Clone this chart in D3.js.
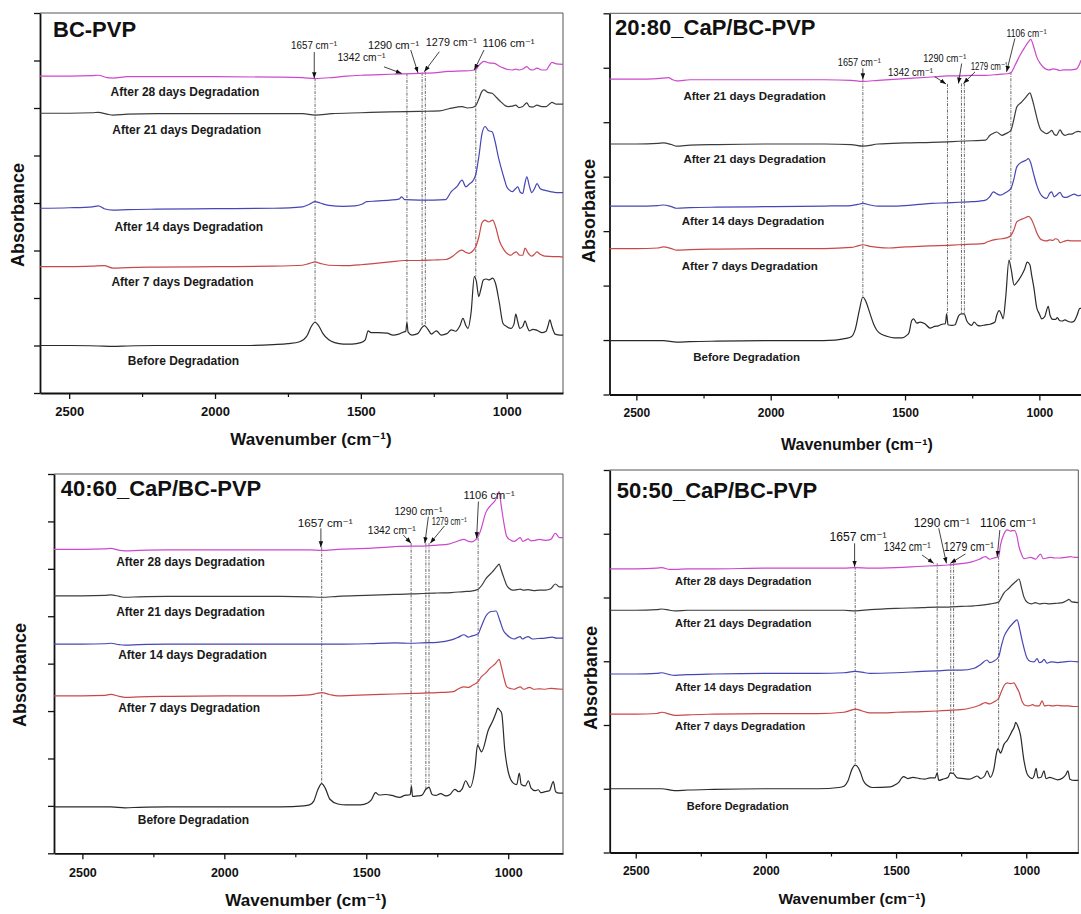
<!DOCTYPE html>
<html>
<head>
<meta charset="utf-8">
<script src="https://cdn.jsdelivr.net/npm/d3@7"></script>
<style>
body{margin:0;background:#fff;}
svg text{font-family:"Liberation Sans",Arial,Helvetica,"DejaVu Sans",sans-serif;}
</style>
</head>
<body>
<div id="chart"></div>
<script>

// axis tick labels (cm-1)
const wnMajor = [2500, 2000, 1500, 1000];
const wnMinor = [2250, 1750, 1250];

const panelTitles = ["BC-PVP", "20:80_CaP/BC-PVP", "40:60_CaP/BC-PVP", "50:50_CaP/BC-PVP"];
const peakMarks = [1657, 1342, 1290, 1279, 1106];

const p1Names = ["After 28 days Degradation","After 21 days Degradation","After 14 days Degradation","After 7 days Degradation","Before Degradation"];
const p2Names = ["After 21 days Degradation","After 21 days Degradation","After 14 days Degradation","After 7 days Degradation","Before Degradation"];
const p3Names = p1Names;
const p4Names = p1Names;

const seriesColors = ["#cc48cc","#3c3c3c","#4646b4","#c84848","#2a2a2a"];

// ---------- BC-PVP (offset absorbance, a.u.) ----------
const p1_d28 = [[2600,6.67],[2500,6.67],[2420,6.68],[2400,6.69],[2370,6.64],[2350,6.63],[2300,6.66],[2200,6.66],[2000,6.66],[1800,6.65],[1700,6.64],[1657,6.62],[1600,6.64],[1550,6.67],[1500,6.69],[1400,6.71],[1300,6.73],[1250,6.74],[1200,6.77],[1150,6.78],[1120,6.79],[1106,6.81],[1095,6.9],[1085,6.96],[1078,6.98],[1060,6.95],[1042,6.94],[1025,6.88],[1010,6.84],[995,6.81],[980,6.8],[969,6.82],[958,6.8],[945,6.82],[931,6.87],[920,6.81],[910,6.8],[896,6.84],[880,6.8],[865,6.8],[855,6.88],[845,6.96],[830,6.93],[807,6.92]];
const p1_d21 = [[2600,5.89],[2500,5.89],[2420,5.9],[2400,5.91],[2370,5.87],[2350,5.85],[2300,5.87],[2200,5.88],[2000,5.88],[1800,5.88],[1700,5.88],[1657,5.85],[1600,5.88],[1500,5.9],[1400,5.92],[1300,5.93],[1230,5.94],[1196,5.99],[1170,6.02],[1153,6.03],[1135,6.0],[1118,6.01],[1106,6.05],[1095,6.2],[1085,6.35],[1078,6.38],[1065,6.33],[1050,6.31],[1035,6.22],[1020,6.13],[1005,6.05],[995,6.03],[980,6.04],[969,6.06],[958,6.01],[945,6.03],[931,6.11],[922,6.03],[910,6.02],[896,6.06],[880,6.03],[865,6.03],[850,6.1],[845,6.12],[830,6.08],[807,6.08]];
const p1_d14 = [[2600,3.89],[2500,3.9],[2420,3.92],[2400,3.94],[2380,3.88],[2350,3.85],[2300,3.86],[2200,3.87],[2000,3.88],[1800,3.89],[1700,3.92],[1675,3.98],[1657,4.03],[1640,4.0],[1610,3.95],[1560,3.93],[1520,3.94],[1495,3.98],[1480,4.03],[1450,4.04],[1400,4.06],[1370,4.08],[1360,4.13],[1350,4.07],[1300,4.06],[1250,4.06],[1210,4.07],[1190,4.24],[1170,4.35],[1153,4.48],[1140,4.34],[1128,4.4],[1118,4.45],[1106,4.6],[1095,5.0],[1085,5.45],[1074,5.61],[1062,5.52],[1050,5.5],[1040,5.3],[1028,4.95],[1020,4.76],[1008,4.5],[1000,4.34],[988,4.26],[980,4.24],[970,4.3],[962,4.34],[953,4.22],[945,4.2],[938,4.4],[931,4.55],[922,4.35],[914,4.22],[905,4.3],[896,4.41],[885,4.3],[872,4.27],[850,4.24],[830,4.22],[807,4.22]];
const p1_d7 = [[2600,2.66],[2500,2.66],[2420,2.67],[2380,2.68],[2350,2.63],[2300,2.64],[2200,2.65],[2000,2.66],[1800,2.67],[1700,2.69],[1675,2.73],[1657,2.76],[1640,2.73],[1610,2.69],[1560,2.68],[1500,2.7],[1450,2.73],[1400,2.76],[1350,2.79],[1300,2.79],[1250,2.8],[1210,2.81],[1185,2.88],[1165,2.98],[1155,3.01],[1140,2.96],[1128,2.94],[1115,3.0],[1106,3.08],[1095,3.3],[1085,3.58],[1075,3.64],[1062,3.6],[1048,3.64],[1038,3.5],[1025,3.2],[1010,3.02],[995,2.92],[985,2.9],[975,2.95],[968,2.97],[955,2.9],[945,2.9],[937,3.05],[928,2.96],[915,2.88],[905,2.92],[897,2.97],[885,2.92],[870,2.88],[840,2.87],[820,2.87],[807,2.86]];
const p1_d0 = [[2600,1.0],[2500,1.0],[2400,0.99],[2350,0.98],[2300,0.99],[2200,1.0],[2000,1.0],[1900,1.0],[1800,1.02],[1750,1.04],[1710,1.08],[1685,1.2],[1670,1.4],[1657,1.49],[1645,1.42],[1630,1.25],[1610,1.12],[1590,1.06],[1560,1.03],[1530,1.03],[1500,1.06],[1485,1.12],[1475,1.31],[1465,1.27],[1440,1.27],[1410,1.26],[1390,1.22],[1370,1.24],[1355,1.28],[1346,1.3],[1342,1.49],[1338,1.28],[1325,1.22],[1305,1.25],[1290,1.38],[1282,1.42],[1270,1.34],[1258,1.24],[1241,1.31],[1225,1.22],[1205,1.25],[1190,1.33],[1175,1.3],[1160,1.42],[1150,1.57],[1140,1.42],[1133,1.36],[1122,1.7],[1111,2.45],[1104,2.35],[1096,2.03],[1088,2.2],[1080,2.38],[1070,2.4],[1060,2.38],[1048,2.42],[1038,2.3],[1025,1.89],[1013,1.47],[1000,1.4],[986,1.36],[975,1.45],[969,1.66],[962,1.5],[955,1.36],[945,1.4],[937,1.52],[930,1.4],[922,1.31],[910,1.34],[900,1.33],[890,1.3],[880,1.27],[865,1.3],[858,1.42],[852,1.54],[845,1.4],[834,1.24],[816,1.22],[807,1.22]];

// ---------- 20:80_CaP/BC-PVP ----------
const p2_d28 = [[2600,5.79],[2500,5.79],[2420,5.8],[2380,5.82],[2365,5.78],[2350,5.76],[2300,5.78],[2200,5.78],[2000,5.78],[1800,5.78],[1700,5.77],[1657,5.75],[1600,5.77],[1500,5.8],[1400,5.83],[1342,5.85],[1300,5.85],[1250,5.86],[1200,5.86],[1150,5.88],[1120,5.89],[1106,5.91],[1090,6.05],[1072,6.23],[1055,6.37],[1040,6.48],[1032,6.52],[1022,6.4],[1010,6.2],[997,6.08],[985,6.01],[973,5.97],[961,5.96],[950,5.98],[936,5.97],[924,5.95],[912,5.96],[900,5.96],[887,5.96],[870,5.97],[861,5.98],[852,6.05],[845,6.14]];
const p2_d21 = [[2600,4.6],[2500,4.6],[2420,4.61],[2400,4.62],[2370,4.59],[2350,4.56],[2300,4.58],[2200,4.59],[2000,4.6],[1800,4.6],[1700,4.59],[1657,4.56],[1600,4.6],[1500,4.62],[1400,4.63],[1342,4.64],[1300,4.65],[1250,4.66],[1200,4.67],[1184,4.76],[1170,4.8],[1159,4.82],[1140,4.76],[1125,4.79],[1106,4.85],[1095,5.05],[1084,5.28],[1066,5.37],[1050,5.46],[1035,5.54],[1028,5.45],[1016,5.22],[1005,5.0],[997,4.88],[985,4.82],[973,4.79],[962,4.82],[954,4.85],[945,4.78],[936,4.76],[923,4.86],[914,4.79],[905,4.76],[890,4.78],[880,4.78],[865,4.82],[855,4.83],[845,4.82]];
const p2_d14 = [[2600,3.46],[2500,3.46],[2420,3.47],[2400,3.48],[2370,3.45],[2350,3.42],[2300,3.43],[2200,3.44],[2000,3.45],[1800,3.46],[1700,3.47],[1675,3.49],[1657,3.51],[1630,3.48],[1600,3.46],[1550,3.46],[1500,3.47],[1450,3.49],[1400,3.51],[1342,3.52],[1300,3.53],[1250,3.54],[1200,3.57],[1185,3.63],[1171,3.72],[1160,3.69],[1146,3.66],[1125,3.71],[1106,3.78],[1095,3.95],[1084,4.18],[1065,4.27],[1050,4.3],[1041,4.33],[1032,4.25],[1022,4.06],[1010,3.85],[997,3.69],[985,3.62],[973,3.6],[961,3.7],[954,3.72],[945,3.63],[936,3.66],[923,3.71],[912,3.63],[900,3.62],[885,3.65],[870,3.68],[855,3.65],[845,3.66]];
const p2_d7 = [[2600,2.68],[2500,2.68],[2420,2.69],[2400,2.71],[2370,2.68],[2350,2.65],[2300,2.66],[2200,2.67],[2000,2.68],[1800,2.68],[1700,2.7],[1675,2.73],[1657,2.75],[1630,2.72],[1600,2.7],[1560,2.69],[1500,2.71],[1450,2.72],[1400,2.73],[1342,2.74],[1300,2.75],[1250,2.76],[1210,2.77],[1190,2.81],[1160,2.85],[1140,2.86],[1120,2.88],[1106,2.92],[1095,3.02],[1084,3.17],[1065,3.22],[1050,3.25],[1041,3.27],[1030,3.22],[1020,3.11],[1008,2.95],[997,2.86],[985,2.83],[973,2.82],[961,2.84],[950,2.83],[940,2.86],[930,2.84],[923,2.79],[910,2.81],[895,2.83],[880,2.82],[860,2.82],[845,2.82]];
const p2_d0 = [[2600,0.99],[2500,0.99],[2400,0.99],[2350,0.96],[2300,0.97],[2200,0.98],[2000,0.99],[1850,0.99],[1760,1.0],[1720,1.03],[1700,1.06],[1685,1.2],[1670,1.55],[1657,1.79],[1645,1.7],[1630,1.48],[1615,1.27],[1605,1.18],[1585,1.1],[1568,1.07],[1540,1.04],[1510,1.04],[1495,1.08],[1485,1.14],[1475,1.36],[1468,1.39],[1456,1.31],[1444,1.33],[1426,1.3],[1407,1.22],[1390,1.25],[1376,1.26],[1362,1.29],[1350,1.3],[1345,1.48],[1340,1.28],[1325,1.27],[1314,1.28],[1300,1.45],[1290,1.48],[1280,1.48],[1270,1.35],[1260,1.29],[1252,1.27],[1243,1.33],[1230,1.27],[1221,1.26],[1200,1.28],[1184,1.29],[1165,1.33],[1159,1.45],[1149,1.54],[1140,1.45],[1135,1.39],[1125,1.8],[1113,2.47],[1105,2.3],[1094,2.01],[1085,2.05],[1066,2.19],[1055,2.3],[1045,2.43],[1035,2.38],[1029,2.2],[1020,1.95],[1010,1.6],[1000,1.48],[991,1.39],[980,1.43],[967,1.62],[960,1.45],[950,1.38],[940,1.38],[933,1.41],[925,1.36],[915,1.35],[905,1.37],[892,1.34],[880,1.33],[870,1.35],[860,1.45],[849,1.58],[845,1.58]];

// ---------- 40:60_CaP/BC-PVP ----------
const p3_d28 = [[2600,6.41],[2500,6.41],[2420,6.42],[2400,6.43],[2370,6.39],[2350,6.38],[2300,6.39],[2200,6.4],[2000,6.4],[1800,6.4],[1700,6.4],[1657,6.39],[1600,6.41],[1500,6.43],[1400,6.47],[1342,6.48],[1300,6.48],[1250,6.5],[1210,6.52],[1190,6.56],[1156,6.62],[1140,6.58],[1130,6.57],[1106,6.68],[1095,6.85],[1080,7.17],[1060,7.35],[1045,7.45],[1035,7.6],[1032,7.63],[1025,7.35],[1017,7.03],[1005,6.68],[990,6.6],[979,6.58],[968,6.62],[958,6.66],[948,6.58],[940,6.6],[930,6.63],[920,6.59],[905,6.6],[890,6.62],[870,6.6],[850,6.62],[834,6.75],[820,6.66],[807,6.66]];
const p3_d21 = [[2600,5.43],[2500,5.43],[2420,5.44],[2400,5.45],[2370,5.42],[2350,5.4],[2300,5.41],[2200,5.42],[2000,5.42],[1800,5.42],[1700,5.41],[1657,5.4],[1600,5.42],[1500,5.44],[1400,5.46],[1342,5.47],[1300,5.48],[1250,5.49],[1200,5.5],[1156,5.52],[1130,5.53],[1106,5.57],[1090,5.68],[1080,5.78],[1055,5.94],[1040,6.05],[1032,6.1],[1025,5.98],[1017,5.84],[1005,5.65],[997,5.59],[985,5.55],[969,5.56],[958,5.57],[945,5.55],[930,5.56],[910,5.54],[890,5.55],[870,5.55],[850,5.58],[834,5.68],[820,5.62],[807,5.62]];
const p3_d14 = [[2600,4.41],[2500,4.41],[2420,4.42],[2400,4.43],[2370,4.4],[2350,4.39],[2300,4.4],[2200,4.41],[2000,4.41],[1800,4.41],[1657,4.41],[1600,4.41],[1500,4.42],[1400,4.44],[1342,4.43],[1300,4.44],[1250,4.45],[1200,4.5],[1175,4.56],[1156,4.61],[1140,4.56],[1130,4.58],[1106,4.63],[1095,4.78],[1080,4.99],[1060,5.1],[1043,5.11],[1030,4.92],[1017,4.7],[1005,4.61],[990,4.54],[979,4.52],[968,4.55],[958,4.57],[950,4.52],[940,4.55],[930,4.57],[915,4.52],[895,4.53],[870,4.54],[845,4.56],[830,4.54],[807,4.54]];
const p3_d7 = [[2600,3.32],[2500,3.32],[2420,3.33],[2400,3.35],[2370,3.31],[2350,3.29],[2300,3.3],[2200,3.31],[2000,3.32],[1800,3.32],[1700,3.34],[1675,3.37],[1657,3.39],[1630,3.35],[1600,3.32],[1550,3.33],[1500,3.34],[1400,3.36],[1300,3.38],[1250,3.39],[1193,3.41],[1175,3.47],[1156,3.51],[1140,3.5],[1125,3.55],[1106,3.62],[1095,3.72],[1080,3.8],[1065,3.9],[1045,4.0],[1032,4.09],[1025,3.95],[1015,3.7],[1005,3.51],[990,3.47],[979,3.46],[968,3.49],[958,3.51],[945,3.46],[935,3.48],[925,3.5],[910,3.46],[890,3.47],[870,3.46],[850,3.48],[830,3.47],[807,3.46]];
const p3_d0 = [[2600,0.98],[2500,0.98],[2400,0.98],[2350,0.96],[2300,0.97],[2200,0.98],[2000,0.98],[1800,0.98],[1720,1.0],[1700,1.02],[1685,1.1],[1670,1.35],[1657,1.47],[1645,1.38],[1628,1.14],[1600,1.04],[1570,1.02],[1521,1.02],[1495,1.06],[1483,1.12],[1467,1.28],[1455,1.23],[1430,1.24],[1410,1.22],[1382,1.18],[1365,1.22],[1350,1.23],[1345,1.24],[1341,1.42],[1337,1.2],[1320,1.21],[1305,1.22],[1290,1.35],[1279,1.39],[1268,1.24],[1255,1.22],[1238,1.26],[1220,1.21],[1205,1.24],[1188,1.35],[1175,1.3],[1162,1.36],[1150,1.53],[1135,1.39],[1117,1.8],[1108,2.28],[1094,2.14],[1070,2.6],[1053,2.81],[1042,2.98],[1037,3.06],[1030,3.02],[1023,2.95],[1012,2.18],[1000,1.72],[982,1.48],[970,1.45],[961,1.69],[954,1.45],[940,1.42],[929,1.53],[920,1.38],[905,1.32],[894,1.34],[885,1.28],[870,1.3],[855,1.32],[841,1.51],[833,1.3],[820,1.27],[807,1.27]];

// ---------- 50:50_CaP/BC-PVP ----------
const p4_d28 = [[2600,4.45],[2500,4.45],[2420,4.46],[2400,4.47],[2370,4.44],[2350,4.44],[2300,4.45],[2200,4.45],[2000,4.46],[1800,4.46],[1700,4.46],[1657,4.47],[1600,4.46],[1500,4.47],[1400,4.49],[1342,4.5],[1300,4.51],[1250,4.53],[1210,4.56],[1180,4.6],[1157,4.64],[1140,4.6],[1125,4.62],[1106,4.64],[1099,4.82],[1085,5.0],[1073,5.06],[1060,5.04],[1054,5.05],[1044,5.05],[1035,4.95],[1028,4.8],[1018,4.68],[1009,4.61],[995,4.62],[983,4.63],[970,4.61],[964,4.6],[955,4.64],[945,4.68],[935,4.61],[920,4.62],[907,4.63],[890,4.62],[870,4.62],[850,4.63],[830,4.64],[815,4.63],[800,4.63]];
const p4_d21 = [[2600,3.8],[2500,3.8],[2420,3.81],[2400,3.82],[2370,3.8],[2350,3.79],[2300,3.8],[2200,3.8],[2000,3.8],[1800,3.8],[1700,3.8],[1657,3.79],[1600,3.81],[1500,3.83],[1400,3.84],[1342,3.85],[1300,3.85],[1250,3.86],[1200,3.87],[1137,3.9],[1106,3.93],[1086,4.07],[1065,4.15],[1054,4.2],[1040,4.25],[1028,4.29],[1018,4.15],[1009,4.01],[995,3.92],[980,3.9],[965,3.92],[950,3.9],[930,3.91],[910,3.9],[881,3.91],[860,3.92],[845,3.95],[836,3.97],[825,3.93],[800,3.92]];
const p4_d14 = [[2600,2.8],[2500,2.8],[2420,2.81],[2400,2.82],[2370,2.79],[2350,2.78],[2300,2.79],[2200,2.8],[2000,2.81],[1800,2.81],[1700,2.82],[1657,2.84],[1620,2.82],[1600,2.81],[1500,2.82],[1400,2.84],[1342,2.85],[1300,2.86],[1250,2.86],[1200,2.89],[1175,2.95],[1151,3.02],[1140,2.98],[1125,3.0],[1106,3.07],[1095,3.25],[1085,3.39],[1070,3.5],[1050,3.6],[1035,3.65],[1025,3.5],[1016,3.33],[1005,3.15],[997,3.05],[985,3.0],[970,2.99],[958,3.04],[950,2.98],[940,2.99],[932,3.03],[920,2.97],[905,2.99],[880,2.98],[855,2.99],[830,3.0],[800,2.99]];
const p4_d7 = [[2600,2.17],[2500,2.17],[2420,2.18],[2400,2.2],[2370,2.17],[2350,2.15],[2300,2.16],[2200,2.17],[2000,2.18],[1800,2.18],[1700,2.2],[1675,2.23],[1657,2.25],[1630,2.22],[1600,2.19],[1550,2.19],[1500,2.2],[1400,2.21],[1342,2.22],[1300,2.23],[1250,2.24],[1210,2.27],[1180,2.31],[1157,2.35],[1140,2.33],[1125,2.36],[1106,2.42],[1095,2.53],[1085,2.62],[1073,2.66],[1060,2.65],[1047,2.66],[1038,2.6],[1028,2.52],[1015,2.36],[1005,2.31],[990,2.3],[975,2.32],[965,2.3],[950,2.3],[939,2.38],[930,2.3],[915,2.31],[900,2.3],[880,2.31],[860,2.3],[840,2.3],[820,2.29],[800,2.29]];
const p4_d0 = [[2600,1.0],[2500,1.0],[2400,1.0],[2350,0.97],[2300,0.98],[2200,0.99],[2000,1.0],[1800,1.0],[1720,1.02],[1700,1.04],[1685,1.12],[1670,1.3],[1657,1.37],[1645,1.33],[1637,1.26],[1625,1.12],[1610,1.05],[1592,1.02],[1522,1.03],[1500,1.07],[1490,1.1],[1478,1.17],[1471,1.19],[1455,1.16],[1435,1.18],[1410,1.16],[1390,1.15],[1370,1.17],[1350,1.17],[1342,1.25],[1336,1.13],[1320,1.15],[1300,1.18],[1292,1.25],[1280,1.24],[1265,1.17],[1240,1.16],[1220,1.15],[1200,1.18],[1189,1.2],[1175,1.16],[1160,1.2],[1150,1.28],[1138,1.18],[1125,1.3],[1112,1.6],[1108,1.63],[1099,1.56],[1085,1.7],[1073,1.76],[1055,1.9],[1045,1.98],[1041,2.04],[1032,1.98],[1022,1.84],[1009,1.45],[995,1.22],[977,1.16],[970,1.2],[962,1.32],[955,1.17],[943,1.18],[932,1.28],[924,1.16],[910,1.18],[895,1.16],[880,1.14],[860,1.17],[848,1.22],[840,1.28],[832,1.15],[815,1.13],[800,1.13]];

const SUP = "\u207B\u00B9";   // superscript -1

function interp(series, w){
    //series is ordered by decreasing wavenumber
    for(let i=0; i<series.length-1; i++){
        let a = series[i], b = series[i+1];
        if(w <= a[0] && w >= b[0]){
            let t = (a[0]-w)/(a[0]-b[0]);
            return a[1] + t*(b[1]-a[1]);
        }
    }
    return series[series.length-1][1];
}

function peakNear(series, w, win){
    let best = interp(series, w);
    series.forEach(d => {
        if(Math.abs(d[0]-w) <= win && d[1] > best){ best = d[1]; }
    });
    return best;
}

function makePanel(svg, p){
    let g = svg.append("g");

    let x = d3.scaleLinear().domain([2600, p.xEnd]).range([p.left, p.right]);
    let y = d3.scaleLinear().domain([0, p.yMax]).range([p.bottom, p.top]);

    //frame (top and right)
    g.append("line").attr("x1",p.left).attr("x2",p.right).attr("y1",p.top).attr("y2",p.top)
        .attr("stroke","#555").attr("stroke-width",1);
    if(p.rightBorder){
        g.append("line").attr("x1",p.right).attr("x2",p.right).attr("y1",p.top).attr("y2",p.bottom)
            .attr("stroke","#555").attr("stroke-width",1);
    }

    //y axis, no labels
    let ya = g.append("g").attr("transform","translate(" + p.left + ",0)")
        .call(d3.axisLeft(y).tickValues(d3.range(0, p.yMax + 1)).tickSize(6).tickSizeOuter(0).tickFormat(""));
    ya.select(".domain").attr("stroke","#111").attr("stroke-width",1.8);
    ya.selectAll(".tick line").attr("stroke","#111").attr("stroke-width",1.3);

    //x axis
    let xa = g.append("g").attr("transform","translate(0," + p.bottom + ")")
        .call(d3.axisBottom(x).tickValues(wnMajor).tickSize(6).tickSizeOuter(0).tickPadding(p.tickPad).tickFormat(d3.format("d")));
    xa.select(".domain").attr("stroke","#111").attr("stroke-width",1.8);
    xa.selectAll(".tick line").attr("stroke","#111").attr("stroke-width",1.3);
    xa.attr("font-family",null).attr("font-size",p.tickFont).attr("font-weight","bold");
    xa.selectAll("text").attr("fill","#111");

    let xm = g.append("g").attr("transform","translate(0," + p.bottom + ")")
        .call(d3.axisBottom(x).tickValues(wnMinor).tickSize(4).tickFormat(""));
    xm.select(".domain").remove();
    xm.selectAll(".tick line").attr("stroke","#111").attr("stroke-width",1.2);

    //axis titles
    g.append("text")
        .attr("x",p.xTitle[0]).attr("y",p.xTitle[1])
        .attr("text-anchor","middle")
        .attr("font-size",p.xTitleFont).attr("font-weight","bold").attr("fill","#111")
        .text("Wavenumber (cm" + SUP + ")");

    g.append("text")
        .attr("transform","translate(" + p.yTitle[0] + "," + p.yTitle[1] + ")rotate(-90)")
        .attr("text-anchor","middle")
        .attr("dominant-baseline","central")
        .attr("font-size",18).attr("font-weight","bold").attr("fill","#111")
        .text("Absorbance");

    //panel title
    g.append("text")
        .attr("x",p.titlePos[0]).attr("y",p.titlePos[1])
        .attr("font-size",22).attr("font-weight","bold").attr("fill","#111")
        .text(p.title);

    //dotted peak lines, from top spectrum down to the original spectrum
    let top = p.series[0], base = p.series[p.series.length-1];
    p.annots.forEach((a) => {
        let ax = x(a.wn), ay = y(interp(top, a.wn));
        g.append("line")
            .attr("x1",ax).attr("x2",ax)
            .attr("y1",ay + a.tip[1]).attr("y2",y(peakNear(base, a.wn, 8)))
            .attr("stroke","#444").attr("stroke-width",0.8)
            .attr("stroke-dasharray","3,1.2,1,1.2");
    });

    //spectra
    let line = d3.line()
        .x(d => x(d[0]))
        .y(d => y(d[1]))
        .curve(d3.curveMonotoneX);

    g.selectAll("path.spec")
        .data(p.series)
        .join("path")
        .attr("class","spec")
        .attr("d",line)
        .attr("fill","none")
        .attr("stroke",(d,i) => seriesColors[i])
        .attr("stroke-width",1.2);

    //spectrum names
    g.selectAll("text.name")
        .data(p.names)
        .join("text")
        .attr("class","name")
        .attr("x",(d,i) => x(p.namePos[i][0]))
        .attr("y",(d,i) => y(p.namePos[i][1]))
        .attr("font-size",p.nameFont).attr("font-weight","bold").attr("fill","#1a1a1a")
        .text(d => d);

    //peak annotations with arrows
    p.annots.forEach((a) => {
        let ax = x(a.wn), ay = y(interp(top, a.wn));
        g.append("line")
            .attr("x1",ax + a.tail[0]).attr("y1",ay + a.tail[1])
            .attr("x2",ax + a.tip[0]).attr("y2",ay + a.tip[1])
            .attr("stroke","#111").attr("stroke-width",0.8)
            .attr("marker-end","url(#arrowhead)");
        g.append("text")
            .attr("x",ax + a.lab[0]).attr("y",ay + a.lab[1])
            .attr("font-size",p.annFont).attr("fill","#111")
            .attr("textLength",a.len).attr("lengthAdjust","spacingAndGlyphs")
            .text(a.wn + " cm" + SUP);
    });
}

let svg = d3.select("#chart").append("svg")
    .attr("width",1081).attr("height",914);

svg.append("defs").append("marker")
    .attr("id","arrowhead")
    .attr("viewBox","0 0 8 6")
    .attr("refX",8).attr("refY",3)
    .attr("markerWidth",6).attr("markerHeight",5)
    .attr("markerUnits","userSpaceOnUse")
    .attr("orient","auto")
    .append("path").attr("d","M0,0 L8,3 L0,6 Z").attr("fill","#111");

makePanel(svg, {
    title: panelTitles[0], titlePos:[53,37],
    left:40, right:563, top:13, bottom:393, xEnd:807, yMax:8, rightBorder:true,
    tickPad:8, tickFont:13, xTitle:[311,445], xTitleFont:17, yTitle:[18,215],
    series:[p1_d28, p1_d21, p1_d14, p1_d7, p1_d0], names:p1Names, nameFont:12,
    namePos:[[2358,6.26],[2352,5.45],[2345,3.42],[2355,2.26],[2299,0.6]],
    annFont:11.5,
    annots:[
        {wn:peakMarks[0], tip:[-0.8,-0.3], tail:[-0.8,-26.5], lab:[-24,-29.5], len:46},
        {wn:peakMarks[1], tip:[-5.2,-0.3], tail:[-23,-6.9], lab:[-69.5,-12.6], len:48},
        {wn:peakMarks[2], tip:[-4.2,-0.5], tail:[-11.4,-23.2], lab:[-54.1,-24.2], len:51},
        {wn:peakMarks[3], tip:[-1,-1.4], tail:[14,-21.4], lab:[0.5,-27], len:51},
        {wn:peakMarks[4], tip:[-1.5,0.5], tail:[8.2,-19.5], lab:[6.8,-22.5], len:52}
    ]
});

makePanel(svg, {
    title: panelTitles[1], titlePos:[615,35],
    left:609.5, right:1081, top:13.3, bottom:394.5, xEnd:845, yMax:7, rightBorder:false,
    tickPad:8, tickFont:12, xTitle:[857,450], xTitleFont:16, yTitle:[589,211],
    series:[p2_d28, p2_d21, p2_d14, p2_d7, p2_d0], names:p2Names, nameFont:11.5,
    namePos:[[2325,5.41],[2325,4.25],[2331,3.12],[2331,2.29],[2288,0.62]],
    annFont:10.5,
    annots:[
        {wn:peakMarks[0], tip:[0,-2], tail:[0,-13], lab:[-25,-15], len:43},
        {wn:peakMarks[1], tip:[-1.5,8], tail:[-12.5,0.9], lab:[-59.5,-0.3], len:45},
        {wn:peakMarks[2], tip:[-3,7.7], tail:[0.2,-12.3], lab:[-38.2,-13.6], len:43},
        {wn:peakMarks[3], tip:[-1,7.8], tail:[10.6,-3.8], lab:[6.3,-5.5], len:37},
        {wn:peakMarks[4], tip:[-4.3,-0.8], tail:[4,-34.2], lab:[-4.3,-35.5], len:40}
    ]
});

makePanel(svg, {
    title: panelTitles[2], titlePos:[60.7,496],
    left:54, right:563, top:474, bottom:853.3, xEnd:807, yMax:8, rightBorder:true,
    tickPad:9, tickFont:12.5, xTitle:[306,906], xTitleFont:17, yTitle:[20,675],
    series:[p3_d28, p3_d21, p3_d14, p3_d7, p3_d0], names:p3Names, nameFont:12,
    namePos:[[2381,6.07],[2381,5.01],[2374,4.1],[2374,2.97],[2305,0.62]],
    annFont:11.5,
    annots:[
        {wn:peakMarks[0], tip:[-0.8,-3], tail:[-0.8,-22], lab:[-24,-23.5], len:55},
        {wn:peakMarks[1], tip:[0,-2.8], tail:[-7.8,-11], lab:[-43.4,-12], len:48},
        {wn:peakMarks[2], tip:[-1,-2.6], tail:[2.5,-29.2], lab:[-31.5,-31], len:48},
        {wn:peakMarks[3], tip:[1.2,-2.4], tail:[15.4,-19.7], lab:[2.8,-20.7], len:35},
        {wn:peakMarks[4], tip:[-1.5,1.6], tail:[0.3,-35], lab:[-14.5,-37.5], len:51}
    ]
});

makePanel(svg, {
    title: panelTitles[3], titlePos:[616.7,498],
    left:609.7, right:1078.3, top:470, bottom:852.5, xEnd:800, yMax:6, rightBorder:true,
    tickPad:8, tickFont:12, xTitle:[852,904], xTitleFont:15.5, yTitle:[591,678],
    series:[p4_d28, p4_d21, p4_d14, p4_d7, p4_d0], names:p4Names, nameFont:11,
    namePos:[[2349,4.2],[2349,3.53],[2349,2.54],[2349,1.92],[2304,0.67]],
    annFont:12,
    annots:[
        {wn:peakMarks[0], tip:[-0.6,-0.8], tail:[-0.6,-24.2], lab:[-25.6,-26.5], len:57},
        {wn:peakMarks[1], tip:[-3.5,-2.3], tail:[-15.1,-10.6], lab:[-53.5,-14.6], len:47},
        {wn:peakMarks[2], tip:[-4.3,-1.4], tail:[-12,-36.4], lab:[-37,-37.7], len:56},
        {wn:peakMarks[3], tip:[-3.2,-1.2], tail:[11.8,-10.5], lab:[-9.9,-13.5], len:50},
        {wn:peakMarks[4], tip:[-1.4,0], tail:[1.2,-26.7], lab:[-18.5,-29.7], len:56}
    ]
});

</script>
</body>
</html>
